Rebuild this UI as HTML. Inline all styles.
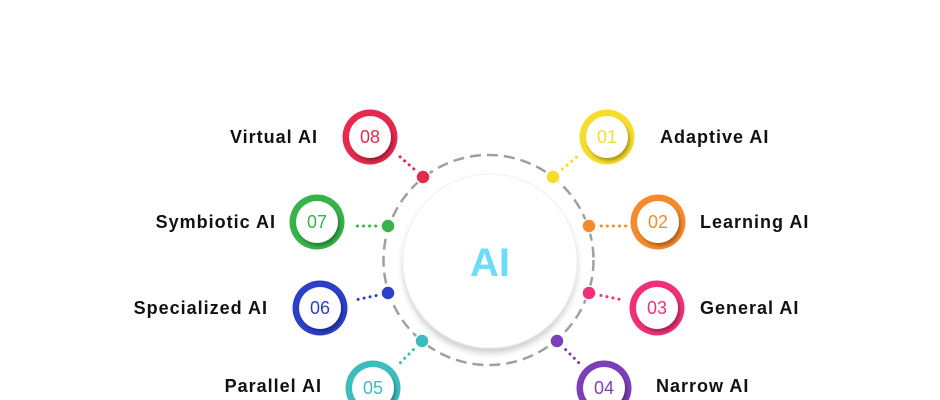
<!DOCTYPE html>
<html><head><meta charset="utf-8"><style>
html,body{margin:0;padding:0;background:#fff;}
svg{display:block;}
.lbl{font-family:"Liberation Sans",sans-serif;font-size:18px;font-weight:bold;fill:#111;letter-spacing:1px;}
.num{font-family:"Liberation Sans",sans-serif;font-size:18px;}
</style></head><body>
<svg width="940" height="400" viewBox="0 0 940 400" xmlns="http://www.w3.org/2000/svg">
<defs>
<filter id="sh" x="-30%" y="-30%" width="160%" height="160%"><feDropShadow dx="2" dy="3" stdDeviation="1.5" flood-color="#000" flood-opacity="0.3"/></filter>
<filter id="sh2" x="-20%" y="-20%" width="140%" height="140%"><feDropShadow dx="0" dy="5" stdDeviation="3" flood-color="#000" flood-opacity="0.18"/></filter>
</defs>
<circle cx="488.5" cy="260" r="105" fill="none" stroke="#a0a0a0" stroke-width="2.5" stroke-dasharray="11 6"/>
<circle cx="490" cy="261" r="87" fill="#fff" stroke="#f0f0f0" stroke-width="1" filter="url(#sh2)"/>
<text x="490" y="276" text-anchor="middle" font-family="Liberation Sans,sans-serif" font-weight="bold" font-size="40" fill="#6cdcfb">AI</text>
<g stroke-width="3" stroke-dasharray="0.1 6" stroke-linecap="round" fill="none">
<line x1="423" y1="177" x2="398" y2="155" stroke="#e5294f"/>
<line x1="553" y1="177" x2="579" y2="155" stroke="#f7dc2b"/>
<line x1="388" y1="226" x2="354" y2="226" stroke="#36b34a"/>
<line x1="589" y1="226" x2="626" y2="226" stroke="#f58a2d"/>
<line x1="388" y1="293" x2="355" y2="300" stroke="#2b3fc8"/>
<line x1="589" y1="293" x2="623" y2="300" stroke="#f0317a"/>
<line x1="422" y1="341" x2="400" y2="363" stroke="#3dbcc0"/>
<line x1="557" y1="341" x2="579" y2="363" stroke="#7b3fb8"/>
</g>
<g stroke="#fff" stroke-width="1.5">
<circle cx="423" cy="177" r="7" fill="#e5294f"/>
<circle cx="553" cy="177" r="7" fill="#f7dc2b"/>
<circle cx="388" cy="226" r="7" fill="#36b34a"/>
<circle cx="589" cy="226" r="7" fill="#f58a2d"/>
<circle cx="388" cy="293" r="7" fill="#2b3fc8"/>
<circle cx="589" cy="293" r="7" fill="#f0317a"/>
<circle cx="422" cy="341" r="7" fill="#3dbcc0"/>
<circle cx="557" cy="341" r="7" fill="#7b3fb8"/>
</g>
<g>
<circle cx="370" cy="137" r="27.5" fill="#e5294f"/><circle cx="370" cy="137" r="21" fill="#fff" filter="url(#sh)"/><text class="num" x="370" y="143" text-anchor="middle" fill="#e5294f">08</text>
<circle cx="607" cy="137" r="27.5" fill="#f7dc2b"/><circle cx="607" cy="137" r="21" fill="#fff" filter="url(#sh)"/><text class="num" x="607" y="143" text-anchor="middle" fill="#f7dc2b">01</text>
<circle cx="317" cy="222" r="27.5" fill="#36b34a"/><circle cx="317" cy="222" r="21" fill="#fff" filter="url(#sh)"/><text class="num" x="317" y="228" text-anchor="middle" fill="#36b34a">07</text>
<circle cx="658" cy="222" r="27.5" fill="#f58a2d"/><circle cx="658" cy="222" r="21" fill="#fff" filter="url(#sh)"/><text class="num" x="658" y="228" text-anchor="middle" fill="#f58a2d">02</text>
<circle cx="320" cy="308" r="27.5" fill="#2b3fc8"/><circle cx="320" cy="308" r="21" fill="#fff" filter="url(#sh)"/><text class="num" x="320" y="314" text-anchor="middle" fill="#2b3fc8">06</text>
<circle cx="657" cy="308" r="27.5" fill="#f0317a"/><circle cx="657" cy="308" r="21" fill="#fff" filter="url(#sh)"/><text class="num" x="657" y="314" text-anchor="middle" fill="#f0317a">03</text>
<circle cx="373" cy="388" r="27.5" fill="#3dbcc0"/><circle cx="373" cy="388" r="21" fill="#fff" filter="url(#sh)"/><text class="num" x="373" y="394" text-anchor="middle" fill="#3dbcc0">05</text>
<circle cx="604" cy="388" r="27.5" fill="#7b3fb8"/><circle cx="604" cy="388" r="21" fill="#fff" filter="url(#sh)"/><text class="num" x="604" y="394" text-anchor="middle" fill="#7b3fb8">04</text>
</g>
<text class="lbl" x="318" y="143" text-anchor="end">Virtual AI</text>
<text class="lbl" x="660" y="143">Adaptive AI</text>
<text class="lbl" x="276" y="228" text-anchor="end">Symbiotic AI</text>
<text class="lbl" x="700" y="228">Learning AI</text>
<text class="lbl" x="268" y="314" text-anchor="end">Specialized AI</text>
<text class="lbl" x="700" y="314">General AI</text>
<text class="lbl" x="322" y="392" text-anchor="end">Parallel AI</text>
<text class="lbl" x="656" y="392">Narrow AI</text>
</svg>
</body></html>
